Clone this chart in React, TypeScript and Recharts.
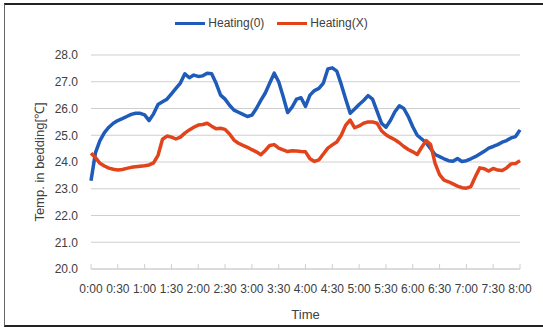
import { LineChart, Line, XAxis, YAxis, CartesianGrid, Legend, Label } from 'recharts';

// minutes since 0:00, every 5 min
const MINUTES = [
  0, 5, 10, 15, 20, 25, 30, 35, 40, 45, 50, 55, 60, 65, 70, 75, 80, 85, 90, 95,
  100, 105, 110, 115, 120, 125, 130, 135, 140, 145, 150, 155, 160, 165, 170, 175, 180, 185, 190, 195,
  200, 205, 210, 215, 220, 225, 230, 235, 240, 245, 250, 255, 260, 265, 270, 275, 280, 285, 290, 295,
  300, 305, 310, 315, 320, 325, 330, 335, 340, 345, 350, 355, 360, 365, 370, 375, 380, 385, 390, 395,
  400, 405, 410, 415, 420, 425, 430, 435, 440, 445, 450, 455, 460, 465, 470, 475, 480,
];

const HEATING_ON = [
  23.3, 24.35, 24.8, 25.1, 25.3, 25.45, 25.55, 25.62, 25.7, 25.78, 25.82, 25.82, 25.76, 25.55, 25.8, 26.15, 26.25, 26.35, 26.55, 26.75,
  26.95, 27.3, 27.15, 27.25, 27.2, 27.22, 27.32, 27.3, 26.94, 26.5, 26.35, 26.12, 25.94, 25.86, 25.78, 25.7, 25.75, 26.0, 26.3, 26.58,
  26.95, 27.32, 27.0, 26.45, 25.85, 26.05, 26.35, 26.4, 26.08, 26.5, 26.67, 26.75, 26.95, 27.48, 27.52, 27.4, 26.9, 26.35, 25.82, 25.98,
  26.15, 26.3, 26.48, 26.35, 25.9, 25.45, 25.3, 25.55, 25.88, 26.1, 26.0, 25.7, 25.32, 25.0, 24.86, 24.72, 24.5, 24.28, 24.2, 24.12,
  24.05, 24.03, 24.13, 24.02, 24.05, 24.12, 24.2, 24.3, 24.4, 24.52, 24.58, 24.65, 24.74, 24.8, 24.9, 24.95, 25.2,
];

const HEATING_OFF = [
  24.33, 24.17, 23.95, 23.85, 23.77, 23.73, 23.7, 23.72, 23.76, 23.8, 23.82, 23.84, 23.86, 23.89, 23.97, 24.25, 24.85, 24.97, 24.93, 24.86,
  24.93, 25.08, 25.2, 25.3, 25.38, 25.4, 25.45, 25.34, 25.24, 25.26, 25.22, 25.05, 24.82, 24.7, 24.62, 24.55, 24.46, 24.38, 24.27, 24.43,
  24.62, 24.65, 24.52, 24.45, 24.39, 24.42, 24.41, 24.39, 24.38, 24.12, 24.02, 24.08, 24.3, 24.52, 24.64, 24.75, 25.0, 25.38, 25.57, 25.28,
  25.35, 25.45, 25.5, 25.5, 25.45, 25.17, 25.02, 24.92, 24.83, 24.72, 24.58, 24.47, 24.38, 24.28, 24.55, 24.8, 24.65, 23.95, 23.53, 23.32,
  23.26, 23.18, 23.1, 23.04, 23.02, 23.08, 23.45, 23.78, 23.75, 23.66, 23.76, 23.7, 23.68, 23.78, 23.93, 23.94, 24.05,
];

const TICK_MINUTES = [0, 30, 60, 90, 120, 150, 180, 210, 240, 270, 300, 330, 360, 390, 420, 450, 480];
const TICK_LABELS = [
  '0:00', '0:30', '1:00', '1:30', '2:00', '2:30', '3:00', '3:30', '4:00',
  '4:30', '5:00', '5:30', '6:00', '6:30', '7:00', '7:30', '8:00',
];
const Y_TICKS = [20, 21, 22, 23, 24, 25, 26, 27, 28];

const BLUE = '#1f5bb8';
const RED = '#e2431a';
const TEXT = '#404040';
const GRID = '#cfcfcf';
const FONT = '"Liberation Sans", Arial, sans-serif';

const data = MINUTES.map((t, i) => ({ t, on: HEATING_ON[i], off: HEATING_OFF[i] }));

function renderLegend(props: any) {
  const items = props.payload || [];
  return (
    <div style={{ display: 'flex', justifyContent: 'center', gap: 13, fontFamily: FONT, fontSize: 12, color: TEXT }}>
      {items.map((it: any) => (
        <div key={it.value} style={{ display: 'flex', alignItems: 'center' }}>
          <span style={{ width: 30, height: 3, background: it.color, display: 'inline-block', marginRight: 3 }} />
          <span>{it.value}</span>
        </div>
      ))}
    </div>
  );
}

export default function App() {
  return (
    <div style={{ position: 'fixed', left: 0, top: 0, width: 543, height: 327, background: '#fff' }}>
      <div
        style={{
          position: 'absolute',
          left: 4,
          top: 3,
          width: 545,
          height: 320,
          borderTop: '2px solid #222',
          borderBottom: '2px solid #222',
          borderLeft: '1px solid #666',
        }}
      />
      <LineChart
        width={543}
        height={327}
        data={data}
        margin={{ top: 41, right: 23, bottom: 0, left: 31 }}
        style={{ position: 'absolute', left: 0, top: 0 }}
      >
        <CartesianGrid vertical={false} stroke={GRID} strokeWidth={1} />
        <XAxis
          dataKey="t"
          type="number"
          domain={[0, 480]}
          ticks={TICK_MINUTES}
          interval={0}
          tickFormatter={(v: number) => TICK_LABELS[TICK_MINUTES.indexOf(v)]}
          height={58}
          stroke={GRID}
          tickSize={-5}
          tickMargin={20}
          tick={{ fill: TEXT, fontSize: 12, fontFamily: FONT }}
        >
          <Label value="Time" position="insideBottom" offset={8} style={{ fill: TEXT, fontSize: 13, fontFamily: FONT }} />
        </XAxis>
        <YAxis
          domain={[20, 28]}
          ticks={Y_TICKS}
          interval={0}
          width={60}
          axisLine={false}
          tickLine={false}
          tickMargin={7}
          tickFormatter={(v: number) => v.toFixed(1)}
          tick={{ fill: TEXT, fontSize: 12, fontFamily: FONT }}
        >
          <Label
            value="Temp. in bedding[℃]"
            angle={-90}
            position="insideLeft"
            offset={0}
            style={{ fill: TEXT, fontSize: 13, fontFamily: FONT, textAnchor: 'middle' }}
            dx={8}
          />
        </YAxis>
        <Legend
          verticalAlign="top"
          content={renderLegend}
          wrapperStyle={{ top: 16, left: 0, width: 543 }}
        />
        <Line
          type="linear"
          dataKey="on"
          name="Heating(0)"
          stroke={BLUE}
          strokeWidth={3.5}
          strokeLinejoin="round"
          dot={false}
          activeDot={false}
          isAnimationActive={false}
        />
        <Line
          type="linear"
          dataKey="off"
          name="Heating(X)"
          stroke={RED}
          strokeWidth={3.5}
          strokeLinejoin="round"
          dot={false}
          activeDot={false}
          isAnimationActive={false}
        />
      </LineChart>
    </div>
  );
}
